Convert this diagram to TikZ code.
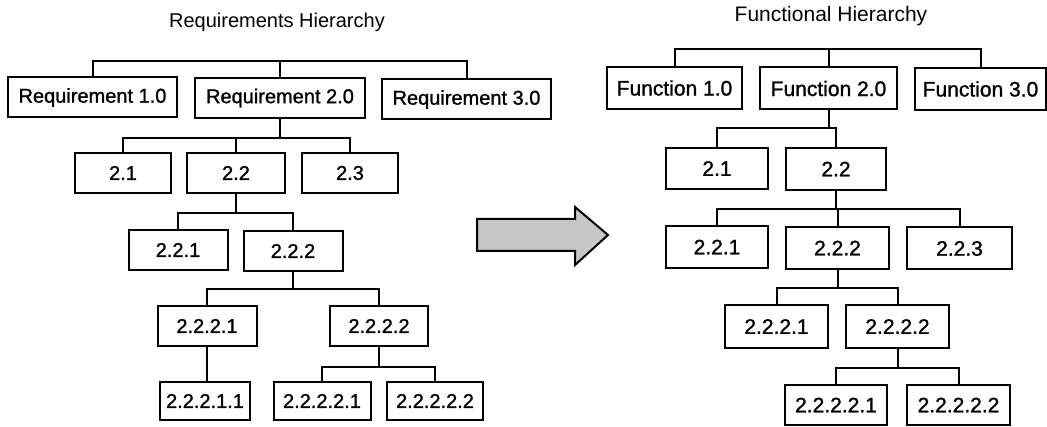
\documentclass[tikz,border=0pt]{standalone}
\usepackage{fontspec}
\setmainfont{Liberation Sans}
\newfontfamily\scanfont{Liberation Sans}[BoldFont={Liberation Sans}, BoldFeatures={FakeBold=1.2}]
\begin{document}
\begin{tikzpicture}[
    x=1pt, y=-1pt, % pixel units, y grows downwards
    box/.style={rectangle, draw, line width=2pt, inner sep=0pt, minimum height=40pt, font=\scanfont\bfseries\fontsize{20}{24}\selectfont},
    funbox/.style={box, minimum height=42pt, font=\scanfont\bfseries\fontsize{21}{25}\selectfont},
    heading/.style={inner sep=0pt},
    link/.style={line width=2pt},
    bigarrow/.style={draw, line width=2pt, fill=gray!45}
]
    \useasboundingbox (0,0) rectangle (1047,427);

    % Requirements hierarchy
    \node[heading, font=\fontsize{20}{24}\selectfont] (reqtitle) at (277,22) {Requirements Hierarchy};
    \node[box, minimum width=169pt] (r10) at (92.5,97.5) {Requirement 1.0};
    \node[box, minimum width=170pt] (r20) at (280,98) {Requirement 2.0};
    \node[box, minimum width=169pt] (r30) at (466.5,99.5) {Requirement 3.0};
    \node[box, minimum width=96pt] (r21) at (123,173) {2.1};
    \node[box, minimum width=98pt] (r22) at (236,173) {2.2};
    \node[box, minimum width=96pt] (r23) at (350,173) {2.3};
    \node[box, minimum width=99pt] (r221) at (178,250) {2.2.1};
    \node[box, minimum width=99pt] (r222) at (293,251) {2.2.2};
    \node[box, minimum width=99pt] (r2221) at (207,326) {2.2.2.1};
    \node[box, minimum width=98pt] (r2222) at (379,326) {2.2.2.2};
    \node[box, minimum width=90pt, minimum height=38pt] (r22211) at (205,401) {2.2.2.1.1};
    \node[box, minimum width=97pt, minimum height=38pt] (r22221) at (322,401) {2.2.2.2.1};
    \node[box, minimum width=96pt, minimum height=38pt] (r22222) at (435,401) {2.2.2.2.2};

    \coordinate (rtop) at (280,61);
    \draw[link] (r10.north) |- (rtop) -| (r30.north);
    \draw[link] (r20.north) -- (r20.north |- rtop);
    \draw[link] (r20.south) -- ++(0,19) coordinate (rb2);
    \draw[link] (r21.north) |- (rb2) -| (r23.north);
    \draw[link] (r22.north) -- (r22.north |- rb2);
    \draw[link] (r22.south) -- ++(0,19) coordinate (rb3);
    \draw[link] (r221.north) |- (rb3) -| (r222.north);
    \draw[link] (r222.south) -- ++(0,17) coordinate (rb4);
    \draw[link] (r2221.north) |- (rb4) -| (r2222.north);
    \draw[link] (r2221.south) -- (r2221.south |- r22211.north);
    \draw[link] (r2222.south) -- ++(0,20) coordinate (rb5);
    \draw[link] (r22221.north) |- (rb5) -| (r22222.north);

    % arrow between the two trees
    \draw[bigarrow] (477,219) -- (575,219) -- (575,207) -- (608,235)
        -- (575,265) -- (575,251) -- (477,251) -- cycle;

    % Functional hierarchy
    \node[heading, font=\fontsize{21}{25}\selectfont] (funtitle) at (831,16) {Functional Hierarchy};
    \node[funbox, minimum width=135pt] (f10) at (674.5,88) {Function 1.0};
    \node[funbox, minimum width=137pt] (f20) at (828.5,88.5) {Function 2.0};
    \node[funbox, minimum width=131pt] (f30) at (980.5,89) {Function 3.0};
    \node[funbox, minimum width=102pt, minimum height=41pt] (f21) at (717,168.5) {2.1};
    \node[funbox, minimum width=100pt] (f22) at (836,169) {2.2};
    \node[funbox, minimum width=102pt] (f221) at (717,247) {2.2.1};
    \node[funbox, minimum width=103pt] (f222) at (837.5,248) {2.2.2};
    \node[funbox, minimum width=105pt] (f223) at (959.5,248.5) {2.2.3};
    \node[funbox, minimum width=103pt, minimum height=43pt] (f2221) at (776.5,326.5) {2.2.2.1};
    \node[funbox, minimum width=103pt, minimum height=43pt] (f2222) at (897.5,326.5) {2.2.2.2};
    \node[funbox, minimum width=102pt, minimum height=40pt] (f22221) at (836,405) {2.2.2.2.1};
    \node[funbox, minimum width=103pt, minimum height=40pt] (f22222) at (958.5,405) {2.2.2.2.2};

    \coordinate (ftop) at (828,49);
    \draw[link] (f10.north) |- (ftop) -| (f30.north);
    \draw[link] (f20.north) -- (f20.north |- ftop);
    \draw[link] (f20.south) -- ++(0,18) coordinate (fb2);
    \draw[link] (f21.north) |- (fb2) -| (f22.north);
    \draw[link] (f22.south) -- ++(0,18.5) coordinate (fb3);
    \draw[link] (f221.north) |- (fb3) -| (f223.north);
    \draw[link] (f222.north) -- (f222.north |- fb3);
    \draw[link] (f222.south) -- ++(0,18) coordinate (fb4);
    \draw[link] (f2221.north) |- (fb4) -| (f2222.north);
    \draw[link] (f2222.south) -- ++(0,19) coordinate (fb5);
    \draw[link] (f22221.north) |- (fb5) -| (f22222.north);
\end{tikzpicture}
\end{document}
